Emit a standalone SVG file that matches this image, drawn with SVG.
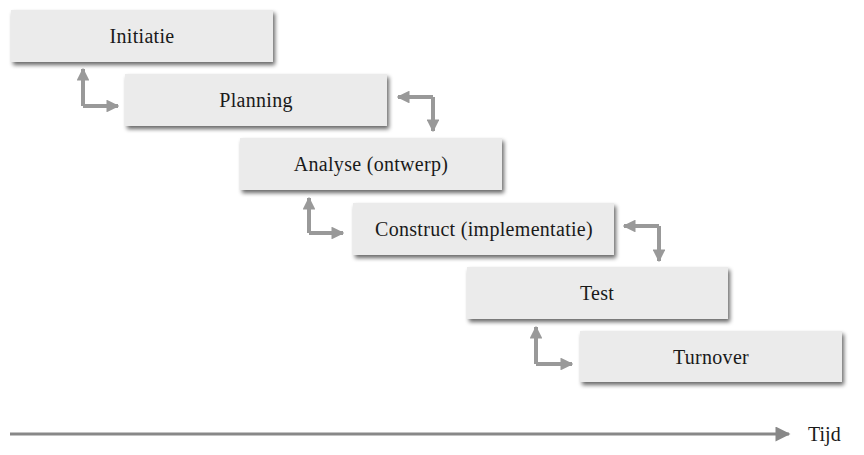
<svg xmlns="http://www.w3.org/2000/svg" width="864" height="455" viewBox="0 0 864 455">
<defs>
<filter id="sh" x="-5%" y="-20%" width="115%" height="160%">
<feGaussianBlur in="SourceAlpha" stdDeviation="2"/>
<feOffset dx="2" dy="3"/>
<feComponentTransfer><feFuncA type="linear" slope="0.6"/></feComponentTransfer>
<feMerge><feMergeNode/><feMergeNode in="SourceGraphic"/></feMerge>
</filter>
<marker id="ah" viewBox="0 0 10 10" refX="9" refY="5" markerWidth="3.2" markerHeight="3.2" orient="auto" markerUnits="strokeWidth">
<path d="M0,0 L10,5 L0,10 z" fill="#999"/>
</marker>
<marker id="ah2" viewBox="0 0 10 10" refX="9" refY="5" markerWidth="6" markerHeight="5" orient="auto" markerUnits="strokeWidth">
<path d="M0,0 L10,5 L0,10 z" fill="#888"/>
</marker>
</defs>
<style>
.box{fill:#ebebeb;filter:url(#sh)}
.lbl{font-family:"Liberation Serif",serif;font-size:20px;letter-spacing:0.3px;fill:#1a1a1a;text-anchor:middle}
.con{fill:none;stroke:#999;stroke-width:4;marker-end:url(#ah)}
</style>
<rect width="864" height="455" fill="#fff"/>
<g id="initiatie"><rect class="box" x="11" y="10" width="262" height="52"/><text class="lbl" x="142" y="43">Initiatie</text></g>
<g id="planning"><rect class="box" x="125" y="74" width="262" height="52"/><text class="lbl" x="256" y="107">Planning</text></g>
<g id="analyse"><rect class="box" x="240" y="138" width="262" height="52"/><text class="lbl" x="371" y="171">Analyse (ontwerp)</text></g>
<g id="construct"><rect class="box" x="353" y="203" width="261" height="52"/><text class="lbl" x="484" y="236">Construct (implementatie)</text></g>
<g id="test"><rect class="box" x="467" y="267" width="261" height="52"/><text class="lbl" x="597" y="300">Test</text></g>
<g id="turnover"><rect class="box" x="580" y="331" width="262" height="51"/><text class="lbl" x="711" y="364">Turnover</text></g>
<g id="connectors">
<path class="con" d="M83,106 V69"/>
<path class="con" d="M83,106 H118"/>
<path class="con" d="M433,97 H398"/>
<path class="con" d="M433,97 V131"/>
<path class="con" d="M309,233 V198"/>
<path class="con" d="M309,233 H343"/>
<path class="con" d="M659,226 H624"/>
<path class="con" d="M659,226 V261"/>
<path class="con" d="M536,364 V327"/>
<path class="con" d="M536,364 H572"/>
<path d="M10,434 H789" fill="none" stroke="#888" stroke-width="3" marker-end="url(#ah2)"/>
</g>
<text x="808" y="441" font-family="Liberation Serif,serif" font-size="20" fill="#1a1a1a">Tijd</text>
</svg>
